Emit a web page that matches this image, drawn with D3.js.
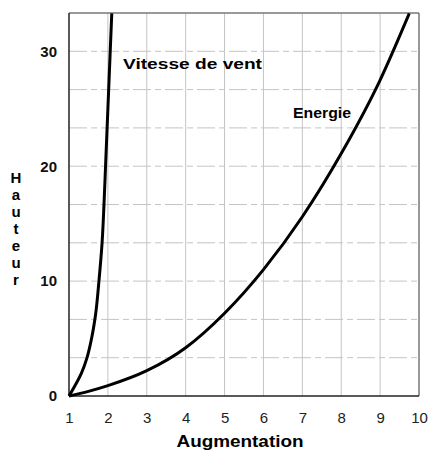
<!DOCTYPE html>
<html><head><meta charset="utf-8">
<script src="https://cdn.jsdelivr.net/npm/d3@7"></script>
<style>body{margin:0;background:#fff}svg{display:block}</style>
</head><body>
<script>
const xTicks = [1,2,3,4,5,6,7,8,9,10];
const yTickLabels = [0,10,20,30];
const yGrid = [10/3,20/3,10,40/3,50/3,20,70/3,80/3,30];
const vitesseX = [1,1.17,1.32,1.46,1.58,1.68,1.77,1.85,1.9,1.94,2.0,2.06,2.1];
const vitesseY = [0,1,2,3.3,5,7,10,13.3,16.7,20,25,30,33.3];
const energieX = [1,1.5,2,3,4,5,6,7,8,9,9.75];
const energieY = [0,0.4,0.9,2.2,4.2,7.2,11.0,15.6,21.1,27.5,33.3];
const yLabel = "Hauteur";
const xLabel = "Augmentation";

const W=429,H=450;
const svg=d3.select("body").append("svg").attr("width",W).attr("height",H);
const x=d3.scaleLinear().domain([1,10]).range([69,419]);
const y=d3.scaleLinear().domain([0,100/3]).range([396,13]);

// grid
svg.append("g").selectAll("line").data(xTicks.slice(1,-1)).join("line")
  .attr("x1",d=>x(d)).attr("x2",d=>x(d)).attr("y1",y(0)).attr("y2",y(100/3))
  .attr("stroke","#c4c4c4").attr("stroke-width",1);
svg.append("g").selectAll("line").data(yGrid).join("line")
  .attr("x1",x(1)).attr("x2",x(10)).attr("y1",d=>y(d)).attr("y2",d=>y(d))
  .attr("stroke","#c4c4c4").attr("stroke-width",1).attr("stroke-dasharray","18,4,6,4");

// frame
svg.append("line").attr("x1",x(1)).attr("x2",x(10)).attr("y1",y(100/3)).attr("y2",y(100/3)).attr("stroke","#777").attr("stroke-width",1.5);
svg.append("line").attr("x1",x(10)).attr("x2",x(10)).attr("y1",y(100/3)).attr("y2",y(0)).attr("stroke","#777").attr("stroke-width",1.5);
svg.append("line").attr("x1",x(1)).attr("x2",x(1)).attr("y1",y(100/3)).attr("y2",y(0)).attr("stroke","#222").attr("stroke-width",1.5);
svg.append("line").attr("x1",x(1)).attr("x2",x(10)).attr("y1",y(0)).attr("y2",y(0)).attr("stroke","#222").attr("stroke-width",1.5);

// axes labels via d3 axes
const xAxis=svg.append("g").attr("transform",`translate(0,${y(0)})`)
  .call(d3.axisBottom(x).tickValues(xTicks).tickSize(0).tickPadding(16).tickFormat(d3.format("d")));
xAxis.select(".domain").remove();
xAxis.selectAll("text").attr("font-family","Liberation Sans, Arial, sans-serif").attr("font-size",15).attr("fill","#222");
const yAxis=svg.append("g").attr("transform",`translate(${x(1)},0)`)
  .call(d3.axisLeft(y).tickValues(yTickLabels).tickSize(0).tickPadding(12).tickFormat(d3.format("d")));
yAxis.select(".domain").remove();
yAxis.selectAll("text").attr("font-family","Liberation Sans, Arial, sans-serif").attr("font-size",15).attr("font-weight","bold").attr("fill","#111");

// curves
svg.append("clipPath").attr("id","c").append("rect")
  .attr("x",x(1)-3).attr("y",y(100/3)).attr("width",x(10)-x(1)+6).attr("height",y(0)-y(100/3)+3);
const lineV=d3.line().x(d=>x(d[0])).y(d=>y(d[1])).curve(d3.curveMonotoneY);
const lineE=d3.line().x(d=>x(d[0])).y(d=>y(d[1])).curve(d3.curveMonotoneX);
const g=svg.append("g").attr("clip-path","url(#c)");
g.append("path").attr("d",lineV(vitesseX.map((v,i)=>[v,vitesseY[i]])))
  .attr("fill","none").attr("stroke","#000").attr("stroke-width",3);
g.append("path").attr("d",lineE(energieX.map((v,i)=>[v,energieY[i]])))
  .attr("fill","none").attr("stroke","#000").attr("stroke-width",3);

// curve labels
svg.append("text").attr("x",123).attr("y",69).text("Vitesse de vent")
  .attr("font-family","Liberation Sans, Arial, sans-serif").attr("font-size",15.5).attr("font-weight","bold")
  .attr("textLength",139).attr("lengthAdjust","spacingAndGlyphs");
svg.append("text").attr("x",293).attr("y",118).text("Energie")
  .attr("font-family","Liberation Sans, Arial, sans-serif").attr("font-size",14).attr("font-weight","bold")
  .attr("textLength",58).attr("lengthAdjust","spacingAndGlyphs");

// axis titles
svg.append("text").attr("x",x(1)+ (x(10)-x(1))/2 - 4).attr("y",447).attr("text-anchor","middle").text(xLabel)
  .attr("font-family","Liberation Sans, Arial, sans-serif").attr("font-size",16).attr("font-weight","bold")
  .attr("textLength",127).attr("lengthAdjust","spacingAndGlyphs");
svg.append("g").selectAll("text").data(yLabel.split("")).join("text")
  .attr("x",16).attr("y",(d,i)=>183+i*17).attr("text-anchor","middle").text(d=>d)
  .attr("font-family","Liberation Sans, Arial, sans-serif").attr("font-size",15).attr("font-weight","bold");
</script>
</body></html>
